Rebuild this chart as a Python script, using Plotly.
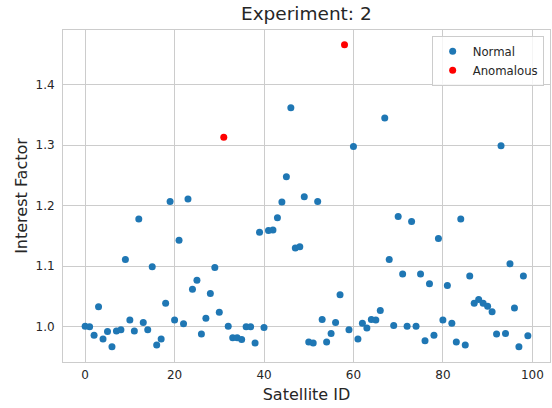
import plotly.graph_objects as go

satellite_ids = list(range(100))
interest_factor = [
    1.001, 1.000, 0.986, 1.033, 0.980, 0.992, 0.967, 0.993, 0.995, 1.111,
    1.011, 0.993, 1.178, 1.007, 0.995, 1.099, 0.970, 0.980, 1.039, 1.207,
    1.011, 1.143, 1.005, 1.211, 1.062, 1.077, 0.988, 1.014, 1.055, 1.098,
    1.024, 1.313, 1.001, 0.982, 0.982, 0.979, 1.000, 1.000, 0.973, 1.156,
    0.999, 1.159, 1.160, 1.180, 1.206, 1.248, 1.362, 1.130, 1.132, 1.215,
    0.975, 0.973, 1.207, 1.012, 0.975, 0.989, 1.007, 1.053, 1.466, 0.995,
    1.298, 0.980, 1.006, 0.998, 1.012, 1.011, 1.027, 1.345, 1.111, 1.002,
    1.182, 1.087, 1.001, 1.174, 1.001, 1.087, 0.977, 1.071, 0.986, 1.146,
    1.011, 1.068, 1.006, 0.975, 1.178, 0.970, 1.084, 1.039, 1.045, 1.039,
    1.034, 1.025, 0.988, 1.299, 0.989, 1.104, 1.031, 0.967, 1.084, 0.985,
]
anomalous_ids = [31, 58]

normal_x = [i for i in satellite_ids if i not in anomalous_ids]
normal_y = [interest_factor[i] for i in normal_x]
anom_x = anomalous_ids
anom_y = [interest_factor[i] for i in anom_x]

x_ticks = [0, 20, 40, 60, 80, 100]
y_ticks = [1.0, 1.1, 1.2, 1.3, 1.4]

text_color = "#262626"
grid_color = "#cccccc"
font_family = "DejaVu Sans"

fig = go.Figure()
fig.add_trace(go.Scatter(
    x=normal_x, y=normal_y, mode="markers", name="Normal",
    marker=dict(color="#1f77b4", size=7, line=dict(width=0)),
))
fig.add_trace(go.Scatter(
    x=anom_x, y=anom_y, mode="markers", name="Anomalous",
    marker=dict(color="red", size=7, line=dict(width=0)),
))

fig.update_layout(
    width=552, height=408,
    margin=dict(l=63, r=2, t=30, b=46),
    paper_bgcolor="white", plot_bgcolor="white",
    font=dict(family=font_family, color=text_color, size=12),
    title=dict(text="Experiment: 2", x=0.555, xanchor="center", y=0.966, yanchor="middle",
               font=dict(size=18.5, color=text_color)),
    showlegend=True,
    legend=dict(
        x=0.987, xanchor="right", y=0.983, yanchor="top",
        bgcolor="rgba(255,255,255,0.8)", bordercolor=grid_color, borderwidth=1,
        font=dict(size=11.7, color=text_color),
        itemwidth=30, tracegroupgap=0,
    ),
)
fig.update_xaxes(
    range=[-4.95, 103.95], tickvals=x_ticks, ticktext=[str(v) for v in x_ticks],
    showgrid=True, gridcolor=grid_color, gridwidth=1, zeroline=False,
    showline=True, mirror=True, linecolor=grid_color, linewidth=1,
    ticks="outside", ticklen=2, tickcolor="rgba(0,0,0,0)",
    tickfont=dict(size=12, color=text_color),
    title=dict(text="Satellite ID", font=dict(size=16, color=text_color), standoff=7),
)
fig.update_yaxes(
    range=[0.9418, 1.4903], tickvals=y_ticks, ticktext=[f"{v:.1f}" for v in y_ticks],
    showgrid=True, gridcolor=grid_color, gridwidth=1, zeroline=False,
    showline=True, mirror=True, linecolor=grid_color, linewidth=1,
    ticks="outside", ticklen=5, tickcolor="rgba(0,0,0,0)",
    tickfont=dict(size=12, color=text_color),
    title=dict(text="Interest Factor", font=dict(size=16, color=text_color), standoff=3),
)

fig.write_html("out.html", config={"displayModeBar": False},
               post_script="document.body.style.margin='0px';")
